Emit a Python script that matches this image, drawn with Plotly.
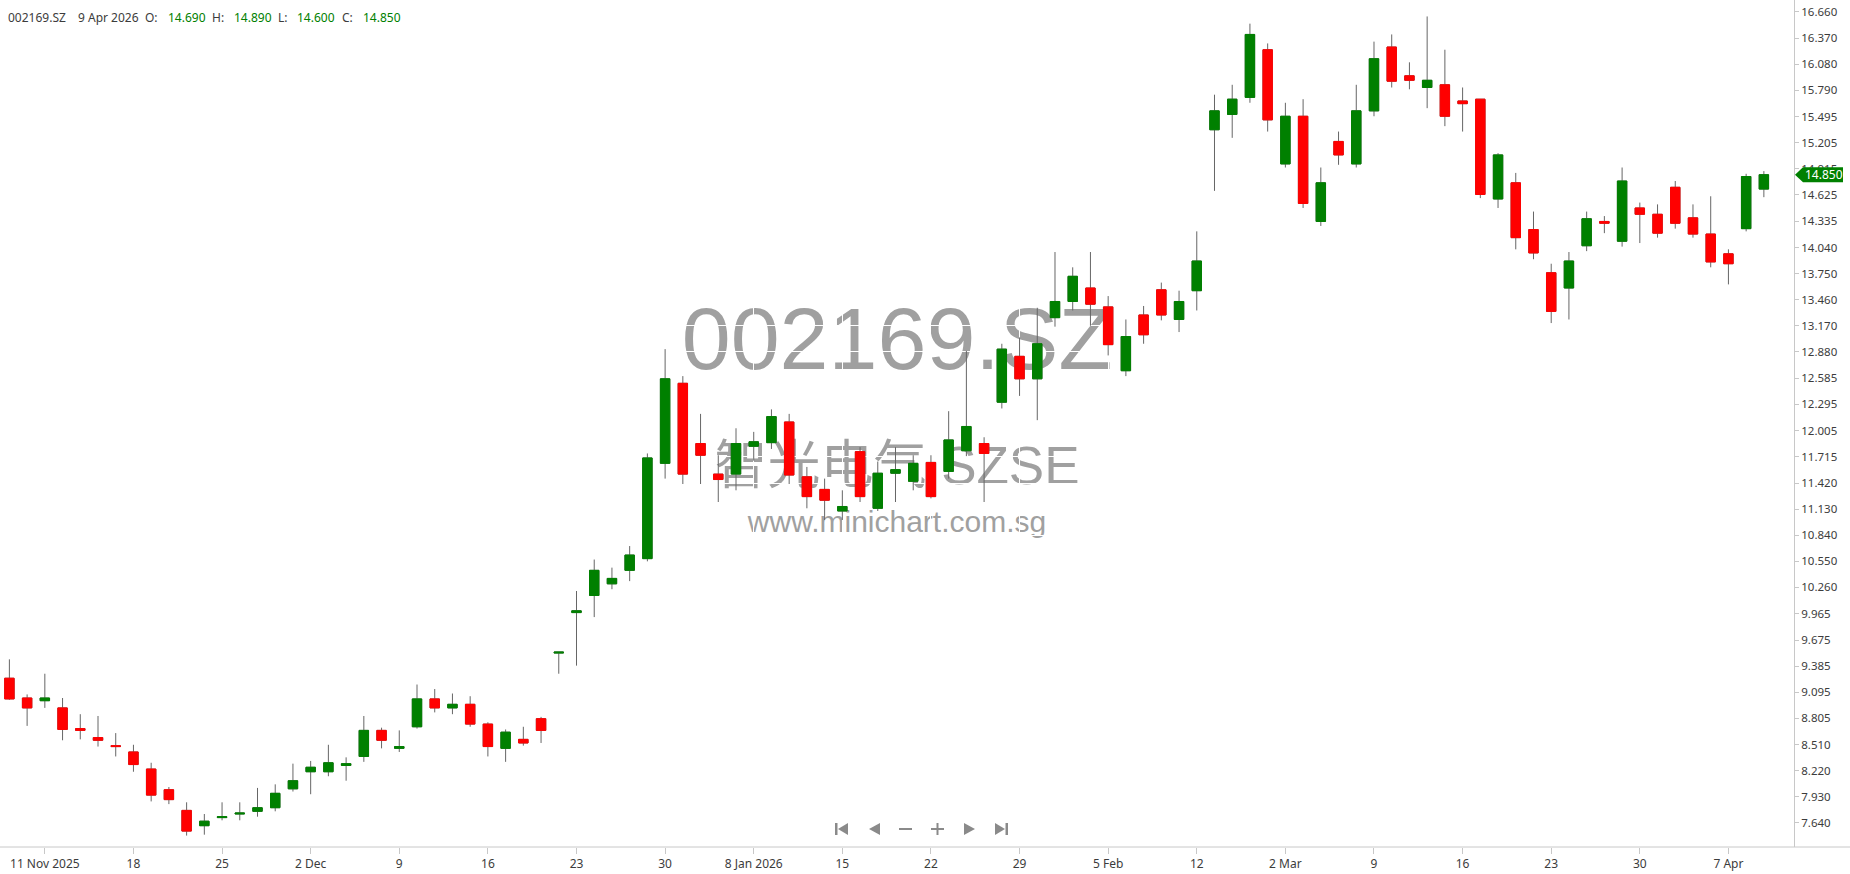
import plotly.graph_objects as go

# ---------------- data ----------------
dates = [
    "2025-11-07", "2025-11-10", "2025-11-11", "2025-11-12", "2025-11-13", "2025-11-14",
    "2025-11-17", "2025-11-18", "2025-11-19", "2025-11-20", "2025-11-21",
    "2025-11-24", "2025-11-25", "2025-11-26", "2025-11-27", "2025-11-28",
    "2025-12-01", "2025-12-02", "2025-12-03", "2025-12-04", "2025-12-05",
    "2025-12-08", "2025-12-09", "2025-12-10", "2025-12-11", "2025-12-12",
    "2025-12-15", "2025-12-16", "2025-12-17", "2025-12-18", "2025-12-19",
    "2025-12-22", "2025-12-23", "2025-12-24", "2025-12-25", "2025-12-26",
    "2025-12-29", "2025-12-30", "2025-12-31",
    "2026-01-05", "2026-01-06", "2026-01-07", "2026-01-08", "2026-01-09",
    "2026-01-12", "2026-01-13", "2026-01-14", "2026-01-15", "2026-01-16",
    "2026-01-19", "2026-01-20", "2026-01-21", "2026-01-22", "2026-01-23",
    "2026-01-26", "2026-01-27", "2026-01-28", "2026-01-29", "2026-01-30",
    "2026-02-02", "2026-02-03", "2026-02-04", "2026-02-05", "2026-02-06",
    "2026-02-09", "2026-02-10", "2026-02-11", "2026-02-12", "2026-02-13",
    "2026-02-25", "2026-02-26", "2026-02-27",
    "2026-03-02", "2026-03-03", "2026-03-04", "2026-03-05", "2026-03-06",
    "2026-03-09", "2026-03-10", "2026-03-11", "2026-03-12", "2026-03-13",
    "2026-03-16", "2026-03-17", "2026-03-18", "2026-03-19", "2026-03-20",
    "2026-03-23", "2026-03-24", "2026-03-25", "2026-03-26", "2026-03-27",
    "2026-03-30", "2026-03-31", "2026-04-01", "2026-04-02", "2026-04-03",
    "2026-04-07", "2026-04-08", "2026-04-09",
]

open_ = [
    9.25, 9.03, 9.00, 8.92, 8.69, 8.59, 8.50, 8.43, 8.24, 8.01,
    7.78, 7.61, 7.70, 7.74, 7.77, 7.81, 8.02, 8.21, 8.21, 8.28,
    8.38, 8.67, 8.47, 8.71, 9.02, 8.92, 8.96, 8.74, 8.47, 8.57,
    8.80, 9.53, 9.98, 10.17, 10.30, 10.45, 10.58, 11.64, 12.53, 11.86,
    11.52, 11.52, 11.83, 11.87, 12.10, 11.49, 11.35, 11.11, 11.77, 11.14,
    11.53, 11.44, 11.65, 11.55, 11.78, 11.86, 12.32, 12.83, 12.58, 13.26,
    13.44, 13.59, 13.38, 12.67, 13.29, 13.57, 13.24, 13.56, 15.35, 15.52,
    15.71, 16.24, 14.97, 15.50, 14.33, 15.22, 14.97, 15.56, 16.27, 15.95,
    15.82, 15.85, 15.67, 15.69, 14.58, 14.76, 14.24, 13.76, 13.59, 14.06,
    14.33, 14.11, 14.48, 14.41, 14.71, 14.37, 14.19, 13.97, 14.25, 14.69,
]
high = [
    9.46, 9.07, 9.30, 9.03, 8.85, 8.83, 8.64, 8.51, 8.31, 8.04,
    7.87, 7.74, 7.87, 7.87, 8.03, 8.07, 8.30, 8.33, 8.51, 8.37,
    8.83, 8.70, 8.67, 9.18, 9.13, 9.08, 9.05, 8.76, 8.68, 8.71,
    8.82, 9.54, 10.22, 10.57, 10.48, 10.72, 11.75, 12.91, 12.61, 12.19,
    11.73, 12.03, 11.99, 12.24, 12.19, 11.60, 11.47, 11.34, 11.82, 11.66,
    11.82, 11.73, 11.73, 12.22, 12.89, 11.93, 12.97, 13.04, 13.37, 13.99,
    13.82, 13.99, 13.50, 13.24, 13.39, 13.65, 13.56, 14.22, 15.74, 15.85,
    16.53, 16.31, 15.65, 15.69, 14.93, 15.33, 15.85, 16.33, 16.41, 16.10,
    16.61, 16.24, 15.82, 15.69, 15.09, 14.87, 14.44, 13.86, 13.99, 14.44,
    14.39, 14.93, 14.54, 14.52, 14.78, 14.52, 14.61, 14.02, 14.86, 14.89,
]
low = [
    9.01, 8.72, 8.92, 8.56, 8.57, 8.49, 8.38, 8.21, 7.88, 7.85,
    7.50, 7.51, 7.67, 7.67, 7.71, 7.77, 7.99, 7.96, 8.16, 8.11,
    8.32, 8.47, 8.43, 8.69, 8.87, 8.85, 8.71, 8.38, 8.32, 8.50,
    8.53, 9.30, 9.39, 9.93, 10.24, 10.33, 10.55, 11.47, 11.41, 11.41,
    11.21, 11.34, 11.67, 11.80, 11.41, 11.14, 11.01, 11.01, 11.21, 11.11,
    11.21, 11.34, 11.25, 11.47, 11.72, 11.21, 12.25, 12.39, 12.12, 13.16,
    13.34, 13.17, 12.84, 12.61, 12.97, 13.23, 13.10, 13.34, 14.67, 15.26,
    15.65, 15.33, 14.93, 14.48, 14.28, 14.96, 14.93, 15.50, 15.82, 15.80,
    15.59, 15.39, 15.33, 14.59, 14.48, 14.02, 13.91, 13.20, 13.24, 14.00,
    14.20, 14.05, 14.09, 14.15, 14.25, 14.15, 13.82, 13.63, 14.22, 14.60,
]
close = [
    9.02, 8.92, 9.03, 8.68, 8.67, 8.56, 8.49, 8.29, 7.95, 7.90,
    7.55, 7.66, 7.71, 7.75, 7.81, 7.97, 8.11, 8.26, 8.31, 8.30,
    8.67, 8.56, 8.49, 9.02, 8.92, 8.96, 8.74, 8.49, 8.65, 8.53,
    8.67, 9.54, 10.00, 10.45, 10.36, 10.62, 11.70, 12.58, 11.52, 11.73,
    11.46, 11.86, 11.88, 12.16, 11.51, 11.27, 11.23, 11.16, 11.27, 11.53,
    11.57, 11.64, 11.27, 11.90, 12.05, 11.75, 12.91, 12.58, 12.97, 13.44,
    13.72, 13.41, 12.96, 13.05, 13.07, 13.29, 13.44, 13.89, 15.56, 15.69,
    16.41, 15.46, 15.50, 14.53, 14.76, 15.07, 15.56, 16.14, 15.89, 15.90,
    15.90, 15.50, 15.64, 14.63, 15.07, 14.15, 13.98, 13.33, 13.89, 14.36,
    14.31, 14.78, 14.41, 14.20, 14.31, 14.19, 13.88, 13.86, 14.83, 14.85,
]

tick_dates = ["2025-11-11", "2025-11-18", "2025-11-25", "2025-12-02", "2025-12-09",
              "2025-12-16", "2025-12-23", "2025-12-30", "2026-01-08", "2026-01-15",
              "2026-01-22", "2026-01-29", "2026-02-05", "2026-02-12", "2026-03-02",
              "2026-03-09", "2026-03-16", "2026-03-23", "2026-03-30", "2026-04-07"]
tick_labels = ["11 Nov 2025", "18", "25", "2 Dec", "9", "16", "23", "30", "8 Jan 2026",
               "15", "22", "29", "5 Feb", "12", "2 Mar", "9", "16", "23", "30", "7 Apr"]

price_ticks = [16.660, 16.370, 16.080, 15.790, 15.495, 15.205, 14.915, 14.625, 14.335,
               14.040, 13.750, 13.460, 13.170, 12.880, 12.585, 12.295, 12.005, 11.715,
               11.420, 11.130, 10.840, 10.550, 10.260, 9.965, 9.675, 9.385, 9.095,
               8.805, 8.510, 8.220, 7.930, 7.640]

symbol = "002169.SZ"
company = "智光电气"
exchange = "SZSE"
last_date_label = "9 Apr 2026"

# ---------------- geometry helpers (layout only) ----------------
W, H = 1850, 874
PLOT_W, PLOT_H = 1794, 847


def px(x):
    return x / PLOT_W


def py(y):
    return 1 - y / PLOT_H


GREEN = "#008000"
RED = "#ff0000"
WICK = "#666666"
TXT = "#3c3c3c"
FONT = "Noto Sans, Open Sans, DejaVu Sans, sans-serif"

body_hi = [max(o, c) for o, c in zip(open_, close)]
body_lo = [min(o, c) for o, c in zip(open_, close)]

fig = go.Figure()
# wicks
fig.add_trace(go.Candlestick(
    x=dates, open=open_, high=high, low=low, close=close,
    increasing=dict(line=dict(color=WICK, width=1), fillcolor=WICK),
    decreasing=dict(line=dict(color=WICK, width=1), fillcolor=WICK),
    whiskerwidth=0, showlegend=False, hoverinfo="skip",
))
# bodies
fig.add_trace(go.Candlestick(
    x=dates, open=open_, high=body_hi, low=body_lo, close=close,
    increasing=dict(line=dict(color=GREEN, width=1), fillcolor=GREEN),
    decreasing=dict(line=dict(color=RED, width=1), fillcolor=RED),
    whiskerwidth=0, showlegend=False,
))

shapes = []
annotations = []

# watermark texts (drawn below the candles)
def wm(text, cy, size):
    shapes.append(dict(
        type="rect", xref="paper", yref="paper", layer="below",
        x0=px(500), x1=px(1294), y0=py(cy + 60), y1=py(cy - 60),
        line=dict(width=0), fillcolor="rgba(0,0,0,0)",
        label=dict(text=text, textposition="middle center", padding=0,
                   font=dict(family="Liberation Sans, Arial, Noto Sans CJK SC, sans-serif",
                             size=size, color="#a0a0a0")),
    ))

wm(symbol, 330, 88)
wm(company + " " + exchange, 460, 53)
wm("www.minichart.com.sg", 518, 30)

# header line
hdr = [
    (7, symbol, TXT), (77, last_date_label, TXT),
    (144, "O:", TXT), (167, f"{open_[-1]:.3f}", GREEN),
    (211, "H:", TXT), (233, f"{high[-1]:.3f}", GREEN),
    (277, "L:", TXT), (296, f"{low[-1]:.3f}", GREEN),
    (341, "C:", TXT), (362, f"{close[-1]:.3f}", GREEN),
]
for x, t, col in hdr:
    annotations.append(dict(
        xref="paper", yref="paper", x=px(x), y=py(18), xanchor="left", yanchor="middle",
        text=t, showarrow=False, borderpad=0, font=dict(family=FONT, size=12, color=col),
    ))

# last price tag
lp = close[-1]
half = 7.5 / 89.9
shapes.append(dict(
    type="path", xref="paper", yref="y", layer="above",
    path=(f"M {px(1795)},{lp} L {px(1803)},{lp + half} L {px(1843)},{lp + half} "
          f"L {px(1843)},{lp - half} L {px(1803)},{lp - half} Z"),
    fillcolor=GREEN, line=dict(width=0),
))
annotations.append(dict(
    xref="paper", yref="y", x=px(1824), y=lp, xanchor="center", yanchor="middle",
    text=f"{lp:.3f}", showarrow=False, borderpad=0,
    font=dict(family=FONT, size=12, color="white"),
))

# bottom axis line extending to the right edge
shapes.append(dict(type="line", xref="paper", yref="paper", x0=0, x1=px(W),
                   y0=0, y1=0, line=dict(color="#c8c8c8", width=1), layer="above"))

# navigation icons
NAV = "#8a8a8a"
cy = 829
def tri(x0, x1, left):
    if left:
        return f"M {px(x1)},{py(cy-6)} L {px(x0)},{py(cy)} L {px(x1)},{py(cy+6)} Z"
    return f"M {px(x0)},{py(cy-6)} L {px(x1)},{py(cy)} L {px(x0)},{py(cy+6)} Z"

nav_paths = [
    tri(838, 848, True),
    f"M {px(835)},{py(cy-6)} L {px(837.5)},{py(cy-6)} L {px(837.5)},{py(cy+6)} L {px(835)},{py(cy+6)} Z",
    tri(869, 880, True),
    f"M {px(899)},{py(cy-1)} L {px(912)},{py(cy-1)} L {px(912)},{py(cy+1)} L {px(899)},{py(cy+1)} Z",
    f"M {px(931)},{py(cy-1)} L {px(944)},{py(cy-1)} L {px(944)},{py(cy+1)} L {px(931)},{py(cy+1)} Z",
    f"M {px(936.5)},{py(cy-6)} L {px(938.5)},{py(cy-6)} L {px(938.5)},{py(cy+6)} L {px(936.5)},{py(cy+6)} Z",
    tri(964, 975, False),
    tri(995, 1005, False),
    f"M {px(1005.5)},{py(cy-6)} L {px(1008)},{py(cy-6)} L {px(1008)},{py(cy+6)} L {px(1005.5)},{py(cy+6)} Z",
]
for p in nav_paths:
    shapes.append(dict(type="path", xref="paper", yref="paper", path=p,
                       fillcolor=NAV, line=dict(width=0), layer="above"))

fig.update_layout(
    width=W, height=H,
    margin=dict(l=0, r=W - PLOT_W, t=0, b=H - PLOT_H, pad=0),
    paper_bgcolor="white", plot_bgcolor="white",
    boxgap=0.24,
    showlegend=False,
    shapes=shapes, annotations=annotations,
    font=dict(family=FONT, color=TXT),
    xaxis=dict(
        type="category", categoryorder="array", categoryarray=dates,
        range=[-0.53, 100.7], rangeslider=dict(visible=False),
        tickmode="array", tickvals=tick_dates, ticktext=tick_labels,
        ticks="outside", ticklen=6, tickcolor="#c8c8c8", tickwidth=1,
        showline=False, showgrid=True, gridcolor="white", gridwidth=1,
        tickfont=dict(family=FONT, size=12, color=TXT), fixedrange=True,
    ),
    yaxis=dict(
        side="right", range=[7.373, 16.793],
        tickmode="array", tickvals=price_ticks, ticktext=[f"{v:.3f}" for v in price_ticks],
        ticks="outside", ticklen=4, tickcolor="#c8c8c8", tickwidth=1,
        showline=True, linecolor="#c8c8c8", linewidth=1,
        showgrid=True, gridcolor="white", gridwidth=1, zeroline=False,
        tickfont=dict(family=FONT, size=11.5, color=TXT), fixedrange=True,
    ),
)

fig.write_html("out.html", config={"displayModeBar": False},
               post_script="document.body.style.margin='0px';document.body.style.overflow='hidden';")
